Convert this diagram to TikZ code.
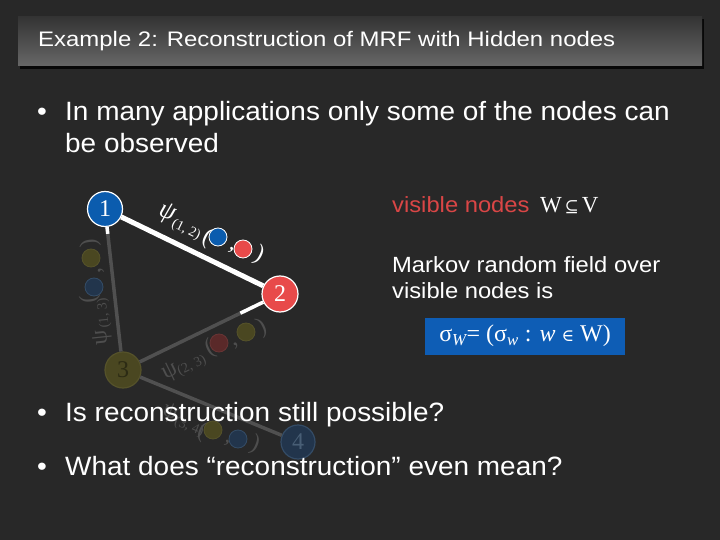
\documentclass[tikz,border=0pt]{standalone}
\usepackage{fontspec}
\usepackage{graphicx}
\setmainfont{Liberation Sans}[FakeStretch=1.08]
\newfontfamily\titlefont{Liberation Sans}[FakeStretch=1.14]
\newfontfamily\bulfont{Liberation Sans}[FakeStretch=1.055]
\newfontfamily\serif{Liberation Serif}
\newfontfamily\dvs{DejaVu Serif}
\usetikzlibrary{calc}
\newcommand\setfs[1]{\fontsize{#1pt}{#1pt}\selectfont}
\definecolor{bg}{HTML}{282828}
\definecolor{bartop}{HTML}{343434}
\definecolor{barbot}{HTML}{676767}
\definecolor{nblue}{HTML}{0B5CAE}
\definecolor{nred}{HTML}{E84A4A}
\definecolor{boxblue}{HTML}{0E5DB5}
\definecolor{vred}{HTML}{DA4646}
\definecolor{gline}{HTML}{505050}
\definecolor{ftxt}{HTML}{4E4E4E}
\definecolor{folive}{HTML}{4A4721}
\definecolor{foliveb}{HTML}{55522A}
\definecolor{fblue}{HTML}{22354C}
\definecolor{fblueb}{HTML}{344C66}
\definecolor{fred}{HTML}{5A2929}
\definecolor{fredb}{HTML}{683535}
\tikzset{
  gnode/.style={circle, inner sep=0, line width=1.2pt, font=\serif\setfs{24}},
  wedge/.style={white, line width=5pt},
  gedge/.style={gline, line width=3.5pt},
  lbl/.style={inner sep=0, font=\serif\setfs{24}},
  sublbl/.style={inner sep=0, font=\serif\setfs{14}},
  dot/.style={circle, minimum size=18pt, inner sep=0, line width=0.8pt},
  txt/.style={inner sep=0, anchor=base west, text=white, font=\bulfont\setfs{26.5}},
  bul/.style={inner sep=0, anchor=base, text=white, font=\bulfont\setfs{26.5}},
  rtxt/.style={inner sep=0, anchor=base west, text=white, font=\setfs{22}},
}
\begin{document}
\begin{tikzpicture}[x=1pt,y=-1pt]
\fill[bg] (0,0) rectangle (720,540);
\useasboundingbox (0,0) rectangle (720,540);
% title bar
\fill[black!80!bg] (20,19) rectangle (704,69);
\shade[top color=bartop, bottom color=barbot] (18,17) rectangle (702,66);
\node[inner sep=0, anchor=base west, text=white, font=\titlefont\setfs{21}] (title) at (38,46.7)
  {Example 2: Reconstruction of MRF with Hidden nodes};

% first bullet
\node[bul] (b1) at (42,120.7) {•};
\node[txt] (t1) at (65,120.7) {In many applications only some of the nodes can};
\node[txt] (t1b) at (65,152.7) {be observed};

% graph nodes
\node[gnode, minimum size=35pt, fill=nblue, draw=white, text=white] (n1) at (105,209) {1};
\node[gnode, minimum size=36pt, fill=nred, draw=white, text=white] (n2) at (280,294) {2};
\node[gnode, minimum size=36pt, fill=folive, draw=foliveb, text=black!40!folive] (n3) at (123,370) {3};
\node[gnode, minimum size=34pt, fill=fblue, draw=fblueb, text=fblueb!90!white] (n4) at (298,442) {4};

% edges
\draw[gedge] (n1) -- (n3);
\draw[gedge] (n2) -- (n3);
\draw[gedge] (n3) -- (n4);
\draw[wedge] (n1) -- (n2);
\coordinate (w13) at ($(n1)!25pt!(n3)$);
\coordinate (w23) at ($(n2)!44pt!(n3)$);
\draw[white, line width=3.5pt] (n1) -- (w13);
\draw[white, line width=3.5pt] (n2) -- (w23);

% label on edge 1-2
\node[lbl, text=white, rotate=-20, font=\serif\itshape\setfs{26}] (p12) at (167,214) {ψ};
\node[sublbl, text=white, rotate=-26] (s12) at (186,230) {(1, 2)};
\node[lbl, text=white, rotate=-26] (o12) at (207,238) {(};
\node[dot, fill=nblue, draw=white] (d12a) at (218,237) {};
\node[lbl, text=white, rotate=-26] (c12) at (231,250) {,};
\node[dot, fill=nred, draw=white] (d12b) at (243,249) {};
\node[lbl, text=white, rotate=-26] (e12) at (259,255) {)};

% label on edge 1-3
\node[lbl, text=ftxt, rotate=96] (p13) at (102,338) {ψ};
\node[sublbl, text=ftxt, rotate=96] (s13) at (104,313) {(1, 3)};
\node[lbl, text=ftxt, rotate=96] (o13) at (90,299) {(};
\node[dot, fill=fblue, draw=fblueb] (d13a) at (94,287) {};
\node[lbl, text=ftxt, rotate=96] (c13) at (101,270) {,};
\node[dot, fill=folive, draw=foliveb] (d13b) at (91,258) {};
\node[lbl, text=ftxt, rotate=96] (e13) at (90,243) {)};

% label on edge 2-3
\node[lbl, text=ftxt, rotate=26] (p23) at (170,372) {ψ};
\node[sublbl, text=ftxt, rotate=26] (s23) at (192,366) {(2, 3)};
\node[lbl, text=ftxt, rotate=26] (o23) at (210,349) {(};
\node[dot, fill=fred, draw=fredb] (d23a) at (219,343) {};
\node[lbl, text=ftxt, rotate=26] (c23) at (236,346) {,};
\node[dot, fill=folive, draw=foliveb] (d23b) at (246,332) {};
\node[lbl, text=ftxt, rotate=26] (e23) at (262,328) {)};

% label on edge 3-4
\node[lbl, text=ftxt, rotate=-22] (p34) at (170,413) {ψ};
\node[sublbl, text=ftxt, rotate=-22] (s34) at (189,427) {(3, 4)};
\node[lbl, text=ftxt, rotate=-22] (o34) at (202,432) {(};
\node[dot, fill=folive, draw=foliveb] (d34a) at (213,430) {};
\node[lbl, text=ftxt, rotate=-22] (c34) at (227,443) {,};
\node[dot, fill=fblue, draw=fblueb] (d34b) at (238,439) {};
\node[lbl, text=ftxt, rotate=-22] (e34) at (255,445) {)};

% right side text
\node[rtxt, text=vred] (vis) at (392,213) {visible nodes};
\node[inner sep=0, anchor=base west, text=white, font=\serif\setfs{23}] (wv) at (540,213)
  {W{\dvs\setfs{17}\,⊆\,}V};
\node[rtxt] (mrf1) at (392,272) {Markov random field over};
\node[rtxt] (mrf2) at (392,298) {visible nodes is};
\node[fill=boxblue, minimum width=200pt, minimum height=37pt, inner sep=0, text=white,
  font=\serif\setfs{24}] (box) at (525,336)
  {σ\textsubscript{\itshape W}= (σ\textsubscript{\itshape w} : \textit{w} {\dvs\setfs{17}∈} W)};

% bullets below
\node[bul] (b2) at (42,421.7) {•};
\node[txt] (t2) at (65,421.7) {Is reconstruction still possible?};
\node[bul] (b3) at (42,475.7) {•};
\node[txt] (t3) at (65,475.7) {What does “reconstruction” even mean?};
\end{tikzpicture}
\end{document}
